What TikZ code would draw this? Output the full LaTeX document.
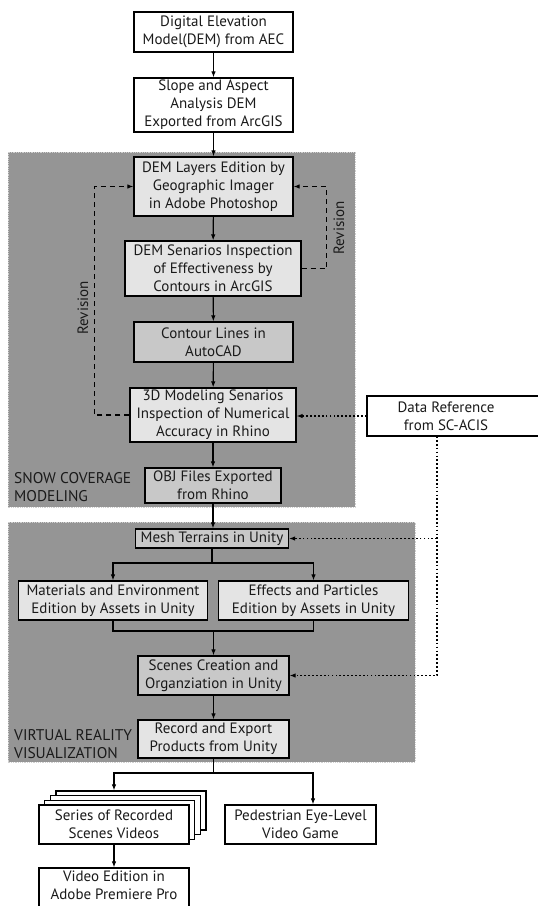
\documentclass[tikz,border=0pt]{standalone}
\usepackage{fontspec}
\setmainfont{PT Sans}
\usetikzlibrary{arrows.meta}
\definecolor{panel}{HTML}{959595}
\definecolor{paneledge}{HTML}{D0D0D0}
\definecolor{lbox}{HTML}{E4E4E4}
\definecolor{dbox}{HTML}{C8C8C8}
\definecolor{txt}{HTML}{1A1A1A}
\begin{document}
\begin{tikzpicture}[x=1pt,y=-1pt,
  font=\fontsize{15}{18}\selectfont, text=txt,
  box/.style={draw=black, line width=1.2pt, inner sep=0pt, align=center},
  wbox/.style={box, fill=white},
  lgbox/.style={box, fill=lbox},
  dgbox/.style={box, fill=dbox},
  tip/.style={-{Latex[length=6pt,width=4.5pt]}},
  arr/.style={line width=1.1pt, tip},
  ln/.style={line width=1.1pt},
  dasharr/.style={line width=1.1pt, dash pattern=on 5pt off 4pt, tip},
  dotln/.style={line width=1.7pt, dash pattern=on 1.7pt off 2.2pt},
  dotarr/.style={dotln, tip},
  paneltitle/.style={anchor=west, align=left, inner sep=0pt, font=\fontsize{15.5}{18}\selectfont}
]
\useasboundingbox (0,0) rectangle (538,906);
\fill[white] (0,0) rectangle (538,906);

% panels
\draw[fill=panel, draw=paneledge, line width=0.8pt, densely dotted] (8,152) rectangle (355,507);
\draw[fill=panel, draw=paneledge, line width=0.8pt, densely dotted] (8,522) rectangle (415,762);

% top boxes
\node[wbox, minimum width=159, minimum height=40] (dem) at (213.5,32) {Digital Elevation\\Model(DEM) from AEC};
\node[wbox, minimum width=159, minimum height=54] (slope) at (213.5,105) {Slope and Aspect\\Analysis DEM\\Exported from ArcGIS};

% panel 1
\node[lgbox, minimum width=159, minimum height=59] (layers) at (213.5,186.5) {DEM Layers Edition by\\Geographic Imager\\in Adobe Photoshop};
\node[lgbox, minimum width=176, minimum height=55] (senar) at (213,268.5) {DEM Senarios Inspection\\of Effectiveness by\\Contours in ArcGIS};
\node[dgbox, minimum width=159, minimum height=40] (contour) at (213.5,342) {Contour Lines in\\AutoCAD};
\node[lgbox, minimum width=166, minimum height=54] (model3d) at (213,415) {3D Modeling Senarios\\Inspection of Numerical\\Accuracy in Rhino};
\node[dgbox, minimum width=136, minimum height=35] (obj) at (213,485.5) {OBJ Files Exported\\from Rhino};
\node[paneltitle] (lab1) at (14,487.5) {SNOW COVERAGE\\MODELING};

% data reference
\node[wbox, minimum width=180, minimum height=40] (dataref) at (457,416) {};
\node[inner sep=0pt, align=center] (dreftext) at (446,416) {Data Reference\\from SC-ACIS};

% panel 2
\node[dgbox, minimum width=153, minimum height=19] (mesh) at (212,538.5) {Mesh Terrains in Unity};
\node[lgbox, minimum width=189, minimum height=39] (mat) at (113,600.5) {Materials and Environment\\Edition by Assets in Unity};
\node[lgbox, minimum width=190, minimum height=39] (eff) at (313.5,600.5) {Effects and Particles\\Edition by Assets in Unity};
\node[dgbox, minimum width=151, minimum height=39] (scenes) at (213.5,675.5) {Scenes Creation and\\Organziation in Unity};
\node[lgbox, minimum width=151, minimum height=38] (record) at (213.5,739) {Record and Export\\Products from Unity};
\node[paneltitle] (lab2) at (14,744) {VIRTUAL REALITY\\VISUALIZATION};

% outputs
\node[wbox, minimum width=150, minimum height=39] (series3) at (131,810.5) {};
\node[wbox, minimum width=150, minimum height=39] (series2) at (125.3,815.2) {};
\node[wbox, minimum width=150, minimum height=39] (series1) at (119.7,819.8) {};
\node[wbox, minimum width=150, minimum height=39] (series) at (114,824.5) {Series of Recorded\\Scenes Videos};
\node[wbox, minimum width=151, minimum height=39] (ped) at (300.5,824.5) {Pedestrian Eye-Level\\Video Game};
\node[wbox, minimum width=150, minimum height=44] (video) at (114,890) {};
\node[inner sep=0pt, align=center] (videotext) at (114,885) {Video Edition in\\Adobe Premiere Pro};

% main flow
\draw[arr] (dem) -- (slope);
\draw[arr] (slope) -- (layers);
\draw[arr] (layers) -- (senar);
\draw[arr] (senar) -- (contour);
\draw[arr] (contour) -- (model3d);
\draw[arr] (model3d) -- (obj);
\draw[arr] (obj) -- (obj.south |- mesh.north);

\coordinate (j1) at (212,563);
\draw[arr] (mesh.south) -- (j1) -| (mat.north);
\draw[arr] (j1) -| (eff.north);
\coordinate (j2) at (213.5,631);
\draw[ln] (mat.south) |- (j2) -| (eff.south);
\draw[arr] (j2) -- (scenes.north);
\draw[arr] (scenes) -- (record);

\coordinate (j3) at (213.5,773);
\draw[ln] (record.south) -- (j3);
\coordinate (s3in) at (series.north |- series3.north);
\draw[arr] (j3) -| (s3in);
\coordinate (pin) at ([xshift=12.5pt]ped.north);
\draw[arr] (j3) -| (pin);
\draw[arr] (series) -- (video);

% revision loops
\draw[dasharr] (senar.east) -- ++(25,0) |- (layers.east);
\draw[dasharr] (model3d.west) -- ++(-35,0) |- (layers.west);
\node[rotate=90, inner sep=0pt] (rev1) at (339,228) {Revision};
\node[rotate=90, inner sep=0pt] (rev2) at (83,308) {Revision};

% data reference links
\draw[dotarr] (dataref.west) -- (dataref.west -| model3d.east);
\coordinate (dtop) at (437,436);
\draw[dotarr] (dtop) |- (scenes.east);
\draw[dotarr] (dtop |- mesh.east) -- (mesh.east);
\end{tikzpicture}
\end{document}
